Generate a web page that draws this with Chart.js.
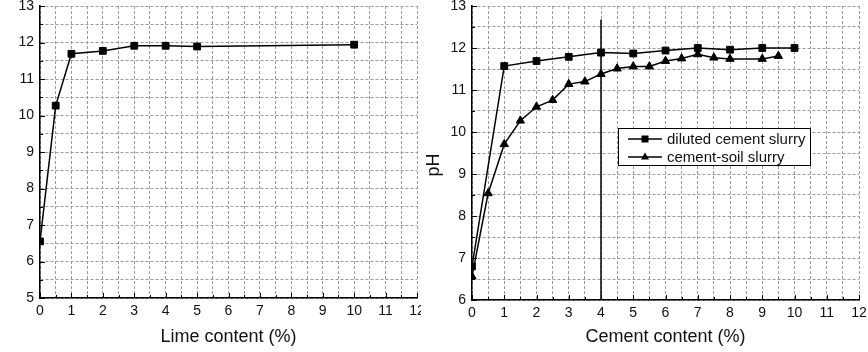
<!DOCTYPE html>
<html>
<head>
<meta charset="UTF-8">
<title>pH vs lime and cement content</title>
<script src="https://cdn.jsdelivr.net/npm/chart.js"></script>
<style>
    body { margin: 0; background: #fff; }
    #wrap { position: relative; width: 868px; height: 352px; }
    /* two panels side by side, the right one covers the clipped "12" of the left */
    #limeBox { position: absolute; left: 0; top: 0; width: 440px; height: 352px; }
    #cementBox { position: absolute; left: 421px; top: 0; width: 447px; height: 352px; background: #fff; }
</style>
</head>
<body>
<div id="wrap">
    <div id="limeBox"><canvas id="limeChart" width="440" height="352"></canvas></div>
    <div id="cementBox"><canvas id="cementChart" width="447" height="352"></canvas></div>
</div>

<script>
    // Left panel: lime content vs pH
    const limeContent = [0, 0.5, 1, 2, 3, 4, 5, 10];
    const limePH = [6.55, 10.27, 11.69, 11.77, 11.91, 11.91, 11.89, 11.94];

    // Right panel: cement content vs pH
    const dilutedContent = [0, 1, 2, 3, 4, 5, 6, 7, 8, 9, 10];
    const dilutedPH = [6.8, 11.57, 11.69, 11.79, 11.89, 11.87, 11.94, 12.0, 11.96, 12.0, 12.0];

    const soilContent = [0, 0.5, 1, 1.5, 2, 2.5, 3, 3.5, 4, 4.5, 5, 5.5, 6, 6.5, 7, 7.5, 8, 9, 9.5];
    const soilPH = [6.56, 8.54, 9.71, 10.27, 10.6, 10.76, 11.14, 11.2, 11.38, 11.51, 11.56, 11.56, 11.69, 11.75, 11.85, 11.77, 11.74, 11.74, 11.81];

    // vertical reference line on the right panel
    const refLineX = 4;
    const refLineTop = 12.68;

    // axis ranges
    const xRange = [0, 12];
    const limeYRange = [5, 13];
    const cementYRange = [6, 13];

    Chart.defaults.font.family = '"Liberation Sans", Arial, sans-serif';
    Chart.defaults.color = '#111';

    const toPoints = (xs, ys) => xs.map((x, i) => ({ x: x, y: ys[i] }));

    // small tick marks pointing into the plot
    const innerTicks = {
        id: 'innerTicks',
        afterDraw(chart) {
            const { ctx, chartArea, scales: { x, y } } = chart;
            ctx.save();
            ctx.strokeStyle = '#000';
            ctx.lineWidth = 1;
            ctx.beginPath();
            x.ticks.forEach(t => {
                const px = Math.round(x.getPixelForValue(t.value)) + 0.5;
                const len = t.value % 1 === 0 ? 5 : 3;
                ctx.moveTo(px, chartArea.bottom);
                ctx.lineTo(px, chartArea.bottom - len);
            });
            y.ticks.forEach(t => {
                const py = Math.round(y.getPixelForValue(t.value)) + 0.5;
                const len = t.value % 1 === 0 ? 5 : 3;
                ctx.moveTo(chartArea.left, py);
                ctx.lineTo(chartArea.left + len, py);
            });
            ctx.stroke();
            ctx.restore();
        }
    };

    // y title sits a little below the middle in the original
    const yLabel = {
        id: 'yLabel',
        afterDraw(chart) {
            const { ctx, chartArea } = chart;
            ctx.save();
            ctx.translate(13, (chartArea.top + chartArea.bottom) / 2 + 12);
            ctx.rotate(-Math.PI / 2);
            ctx.font = '18px "Liberation Sans", Arial, sans-serif';
            ctx.fillStyle = '#111';
            ctx.textAlign = 'center';
            ctx.textBaseline = 'middle';
            ctx.fillText('pH', 0, 0);
            ctx.restore();
        }
    };

    function drawMarker(ctx, style, cx, cy) {
        ctx.beginPath();
        if (style === 'triangle') {
            ctx.moveTo(cx, cy - 4.5);
            ctx.lineTo(cx + 4, cy + 2.5);
            ctx.lineTo(cx - 4, cy + 2.5);
            ctx.closePath();
        } else {
            ctx.rect(cx - 3.5, cy - 3.5, 7, 7);
        }
        ctx.fill();
    }

    // boxed legend inside the plot, like the original figure
    const boxLegend = {
        id: 'boxLegend',
        afterDraw(chart) {
            const { ctx, chartArea } = chart;
            const left = chartArea.left + 146, top = chartArea.top + 122, w = 192, h = 37;
            ctx.save();
            ctx.fillStyle = '#fff';
            ctx.fillRect(left, top, w, h);
            ctx.strokeStyle = '#000';
            ctx.lineWidth = 1;
            ctx.strokeRect(left + 0.5, top + 0.5, w, h);
            ctx.font = '15px "Liberation Sans", Arial, sans-serif';
            ctx.textBaseline = 'middle';
            chart.data.datasets.filter(ds => ds.inLegend).forEach((ds, i) => {
                const cy = top + 11 + i * 18;
                ctx.strokeStyle = '#000';
                ctx.lineWidth = 1.5;
                ctx.beginPath();
                ctx.moveTo(left + 10, cy);
                ctx.lineTo(left + 44, cy);
                ctx.stroke();
                ctx.fillStyle = '#000';
                drawMarker(ctx, ds.pointStyle, left + 27, cy);
                ctx.fillStyle = '#111';
                ctx.fillText(ds.label, left + 49, cy + 1);
            });
            ctx.restore();
        }
    };

    function axes(yRange, yWidth, xHeight, xTitle) {
        return {
            x: {
                type: 'linear',
                min: xRange[0],
                max: xRange[1],
                afterFit: s => { s.height = xHeight; s.paddingLeft = 0; s.paddingRight = 0; },
                ticks: {
                    stepSize: 0.5,
                    autoSkip: false,
                    maxRotation: 0,
                    padding: 5,
                    font: { size: 14 },
                    callback: v => (v % 1 === 0 ? v : '')
                },
                grid: { color: '#9a9a9a', lineWidth: 1, drawTicks: false },
                border: { color: '#000', width: 1.5, dash: [3, 2] },
                title: {
                    display: true,
                    text: xTitle,
                    font: { size: 18 },
                    color: '#111',
                    padding: { top: 0, bottom: 4 }
                }
            },
            y: {
                type: 'linear',
                min: yRange[0],
                max: yRange[1],
                afterFit: s => { s.width = yWidth; s.paddingTop = 0; s.paddingBottom = 0; },
                ticks: {
                    stepSize: 0.5,
                    autoSkip: false,
                    padding: 6,
                    font: { size: 14 },
                    callback: v => (v % 1 === 0 ? v : '')
                },
                grid: { color: '#9a9a9a', lineWidth: 1, drawTicks: false },
                border: { color: '#000', width: 1.5, dash: [3, 2] }
            }
        };
    }

    const seriesStyle = {
        borderColor: '#000',
        backgroundColor: '#000',
        borderWidth: 1.5,
        pointRadius: 4.8,
        pointBorderWidth: 1,
        pointHoverRadius: 4.8,
        tension: 0,
        clip: 0
    };

    new Chart(document.getElementById('limeChart'), {
        type: 'line',
        data: {
            datasets: [Object.assign({
                label: 'lime',
                data: toPoints(limeContent, limePH),
                pointStyle: 'rect'
            }, seriesStyle)]
        },
        options: {
            responsive: false,
            animation: false,
            layout: { padding: { left: 0, top: 6, right: 23, bottom: 0 } },
            plugins: { legend: { display: false }, tooltip: { enabled: false } },
            scales: axes(limeYRange, 40, 54, 'Lime content (%)')
        },
        plugins: [innerTicks]
    });

    new Chart(document.getElementById('cementChart'), {
        type: 'line',
        data: {
            datasets: [
                Object.assign({
                    label: 'diluted cement slurry',
                    data: toPoints(dilutedContent, dilutedPH),
                    pointStyle: 'rect',
                    inLegend: true
                }, seriesStyle),
                Object.assign({
                    label: 'cement-soil slurry',
                    data: toPoints(soilContent, soilPH),
                    pointStyle: 'triangle',
                    inLegend: true
                }, seriesStyle),
                {
                    label: 'reference',
                    data: [{ x: refLineX, y: cementYRange[0] }, { x: refLineX, y: refLineTop }],
                    borderColor: '#000',
                    borderWidth: 1.5,
                    pointRadius: 0
                }
            ]
        },
        options: {
            responsive: false,
            animation: false,
            layout: { padding: { left: 0, top: 6, right: 9, bottom: 0 } },
            plugins: { legend: { display: false }, tooltip: { enabled: false } },
            scales: axes(cementYRange, 51, 52, 'Cement content (%)')
        },
        plugins: [innerTicks, boxLegend, yLabel]
    });
</script>
</body>
</html>
